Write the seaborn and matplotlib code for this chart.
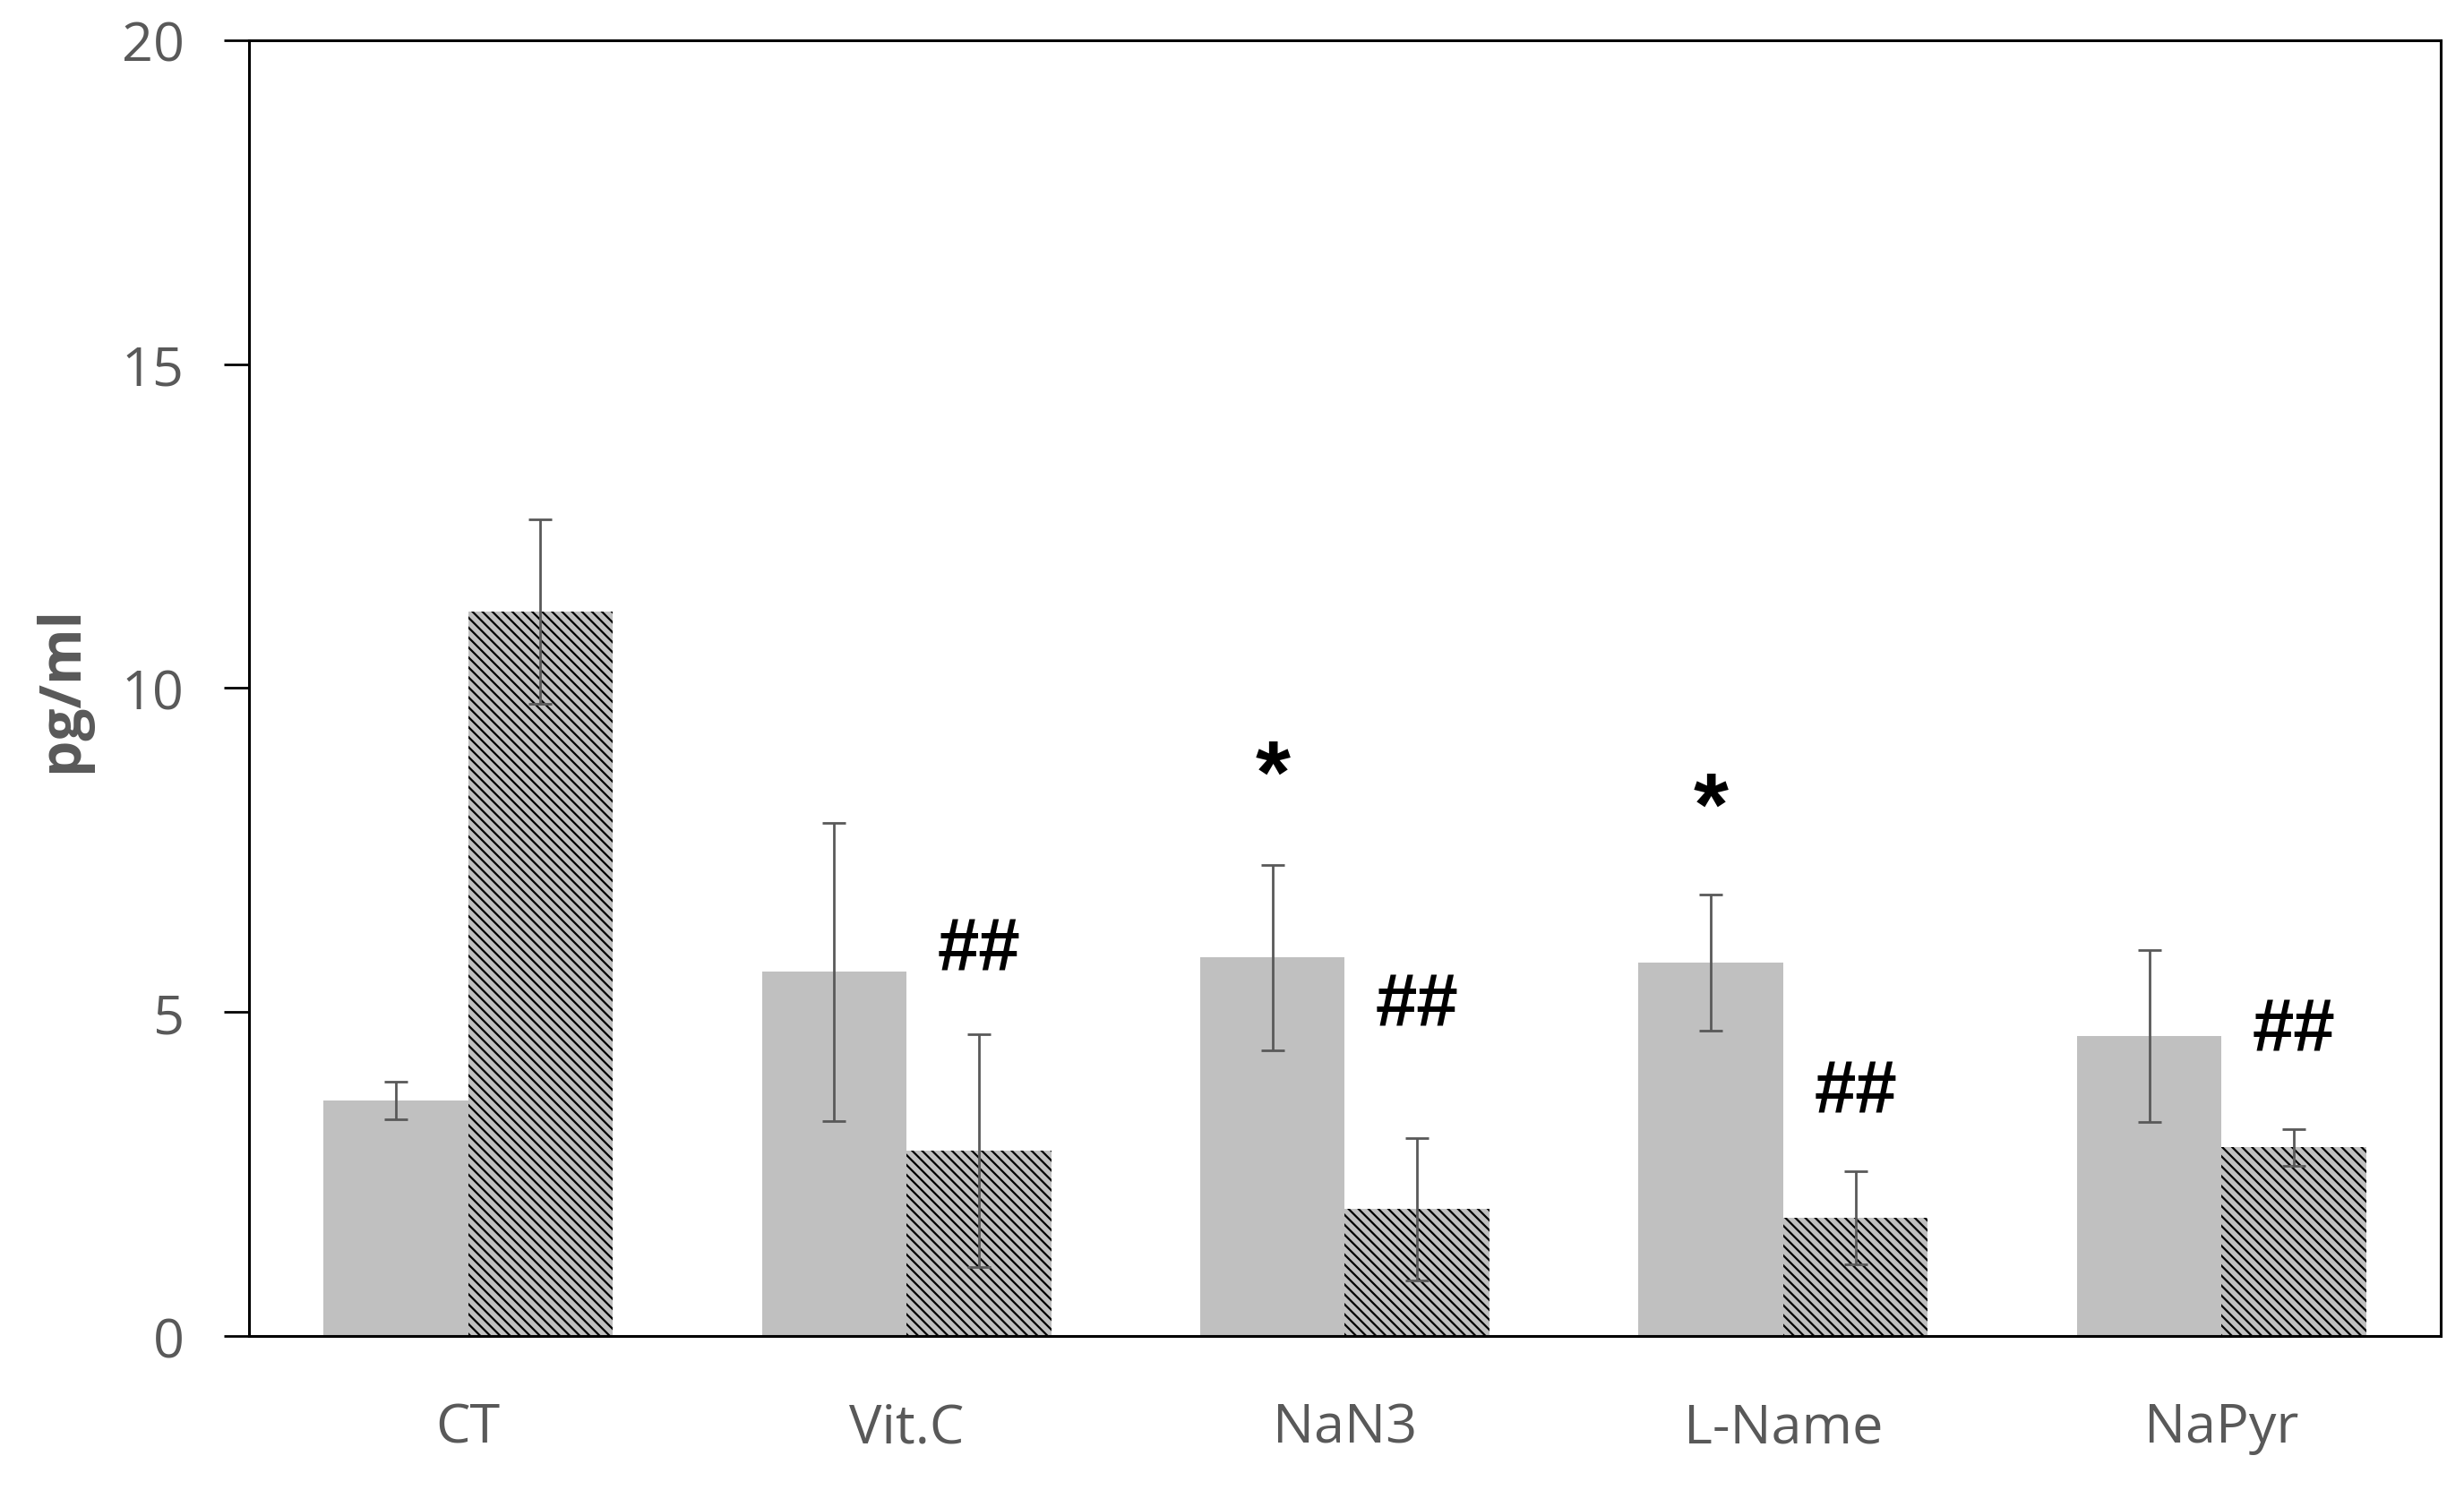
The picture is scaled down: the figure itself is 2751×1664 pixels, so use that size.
import numpy as np
import pandas as pd
import matplotlib
matplotlib.use("Agg")
import matplotlib.pyplot as plt
import seaborn as sns

# values
groups = ["CT", "Vit.C", "NaN3", "L-Name", "NaPyr"]
series = ["solid", "hatched"]
solid_mean = [3.64, 5.62, 5.84, 5.77, 4.63]
solid_err = [0.29, 2.30, 1.43, 1.05, 1.33]
hatched_mean = [11.18, 2.86, 1.96, 1.82, 2.91]
hatched_err = [1.42, 1.80, 1.10, 0.72, 0.28]

# significance marks: (group, series, text, y)
marks = [
    ("NaN3", "solid", "*", 8.6),
    ("L-Name", "solid", "*", 8.1),
    ("Vit.C", "hatched", "##", 5.95),
    ("NaN3", "hatched", "##", 5.10),
    ("L-Name", "hatched", "##", 3.75),
    ("NaPyr", "hatched", "##", 4.70),
]
yticks = [0, 5, 10, 15, 20]

df = pd.DataFrame({
    "group": groups * 2,
    "series": [series[0]] * len(groups) + [series[1]] * len(groups),
    "value": solid_mean + hatched_mean,
    "err": solid_err + hatched_err,
})

sns.set_theme(style="white")
plt.rcParams["font.family"] = ["Open Sans", "DejaVu Sans"]
plt.rcParams["hatch.linewidth"] = 0.8

fig = plt.figure(figsize=(13.755, 8.325), dpi=200)
ax = fig.add_axes([0.101, 0.1033, 0.8896, 0.8691])

bar_grey = "#c0c0c0"
sns.barplot(data=df, x="group", y="value", hue="series", order=groups,
            hue_order=series, palette=[bar_grey, bar_grey], width=0.66,
            errorbar=None, legend=False, ax=ax, saturation=1, linewidth=0)

# bars are drawn in hue order: first the solid ones, then the hatched ones
bars = [p for p in ax.patches if p.get_height() > 0 or p.get_width() > 0]
n = len(groups)
solid_bars = bars[:n]
hatched_bars = bars[n:2 * n]
for p in hatched_bars:
    p.set_hatch("\\" * 6)
    p.set_edgecolor("black")
    p.set_linewidth(0)

centers = {}
for g, ps, ph in zip(groups, solid_bars, hatched_bars):
    centers[(g, "solid")] = ps.get_x() + ps.get_width() / 2
    centers[(g, "hatched")] = ph.get_x() + ph.get_width() / 2

for ps_list, means, errs in [(solid_bars, solid_mean, solid_err),
                             (hatched_bars, hatched_mean, hatched_err)]:
    xs = [p.get_x() + p.get_width() / 2 for p in ps_list]
    ax.errorbar(xs, means, yerr=errs, fmt="none", ecolor="#595959",
                elinewidth=1.0, capsize=4.7, capthick=1.0, zorder=5)

for g, s, txt, y in marks:
    ax.text(centers[(g, s)], y, txt, ha="center", va="center",
            fontsize=30 if txt == "##" else 36, color="black", fontweight="bold",
            family=["Liberation Sans", "DejaVu Sans"], zorder=6)

ax.set_ylim(0, 20)
ax.set_xlim(-0.5, len(groups) - 0.5)
ax.set_yticks(yticks)
ax.set_xlabel("")
ax.set_ylabel("pg/ml", fontsize=23, fontweight="bold", color="#595959", labelpad=12)

for sp in ax.spines.values():
    sp.set_visible(True)
    sp.set_color("black")
    sp.set_linewidth(1.1)

ax.tick_params(axis="y", direction="out", length=10, width=1.0, color="black",
               labelsize=22, labelcolor="#595959", pad=16, left=True)
ax.tick_params(axis="x", length=0, labelsize=22, labelcolor="#595959", pad=26)
ax.grid(False)

fig.savefig("out.png", dpi=200)
